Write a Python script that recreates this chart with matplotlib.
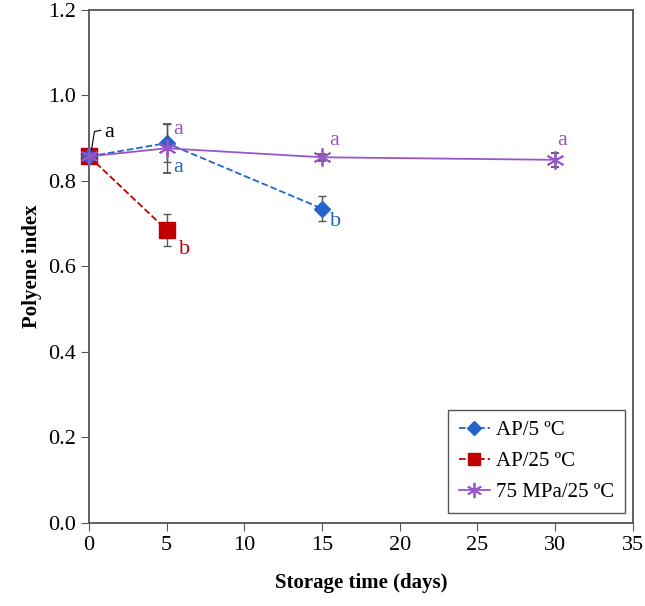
import matplotlib
matplotlib.use("Agg")
from matplotlib import pyplot as plt
from matplotlib.lines import Line2D

plt.rcParams['font.family'] = ['Liberation Serif', 'DejaVu Serif']

# Dados
dias_ap5 = [0, 5, 15]
ap5 = [0.857, 0.888, 0.735]
ap5_err = [0.0, 0.045, 0.03]

dias_ap25 = [0, 5]
ap25 = [0.857, 0.685]
ap25_err = [0.0, 0.037]

dias_hp = [0, 5, 15, 30]
hp = [0.857, 0.876, 0.855, 0.849]
hp_err = [0.0, 0.057, 0.008, 0.017]

azul = '#2266cc'
vermelho = '#c00000'
roxo = '#9955cc'
cinza = '#555555'

fig = plt.figure(figsize=(6.45, 6.06), dpi=100)
ax = fig.add_axes([0.138, 0.137, 0.843, 0.847])

ax.errorbar(dias_ap25, ap25, yerr=ap25_err, color=vermelho, ls='--', lw=1.3,
            marker='s', ms=12, ecolor=cinza, elinewidth=1, capsize=3,
            zorder=3, clip_on=False)
ax.errorbar(dias_ap5, ap5, yerr=ap5_err, color=azul, ls='--', lw=1.3,
            marker='D', ms=8, ecolor=cinza, elinewidth=1, capsize=3,
            zorder=4, clip_on=False)
ax.errorbar(dias_hp, hp, yerr=hp_err, color=roxo, ls='-', lw=1.3,
            marker=(6, 2, 0), ms=13, mew=1.3, ecolor=cinza, elinewidth=1,
            capsize=3, zorder=5, clip_on=False)

# Letras de significância
ax.plot([0.15, 0.35, 0.75], [0.87, 0.915, 0.918], color='black', lw=0.8, zorder=6)
ax.text(1.0, 0.912, 'a', color='black', fontsize=16, va='center')
ax.text(5.45, 0.919, 'a', color=roxo, fontsize=16, va='center')
ax.text(5.45, 0.830, 'a', color=azul, fontsize=16, va='center')
ax.text(5.8, 0.639, 'b', color=vermelho, fontsize=16, va='center')
ax.text(15.5, 0.704, 'b', color=azul, fontsize=16, va='center')
ax.text(15.45, 0.894, 'a', color=roxo, fontsize=16, va='center')
ax.text(30.15, 0.894, 'a', color=roxo, fontsize=16, va='center')

ax.set_xlim(0, 35)
ax.set_ylim(0, 1.2)
ax.set_xticks(range(0, 36, 5))
ax.set_yticks([0, 0.2, 0.4, 0.6, 0.8, 1.0, 1.2])
ax.set_yticklabels(['0.0', '0.2', '0.4', '0.6', '0.8', '1.0', '1.2'])
ax.tick_params(direction='out', length=6, labelsize=16, color=cinza)
for s in ax.spines.values():
    s.set_color(cinza)
    s.set_linewidth(1.3)

ax.set_xlabel('Storage time (days)', fontsize=15, fontweight='bold', labelpad=13)
ax.set_ylabel('Polyene index', fontsize=15, fontweight='bold', labelpad=4)

handles = [
    Line2D([], [], color=azul, ls='--', lw=1.3, marker='D', ms=7),
    Line2D([], [], color=vermelho, ls='--', lw=1.3, marker='s', ms=9),
    Line2D([], [], color=roxo, ls='-', lw=1.3, marker=(6, 2, 0), ms=11, mew=1.3),
]
labels = ['AP/5 ºC', 'AP/25 ºC', '75 MPa/25 ºC']
leg = ax.legend(handles, labels, loc='lower right', fontsize=15, fancybox=False,
                edgecolor=cinza, framealpha=1, handlelength=1.5,
                handletextpad=0.3, borderpad=0.5, labelspacing=0.55,
                borderaxespad=0, bbox_to_anchor=(0.985, 0.02))
leg.get_frame().set_linewidth(1.0)

fig.savefig('out.png', dpi=100)
